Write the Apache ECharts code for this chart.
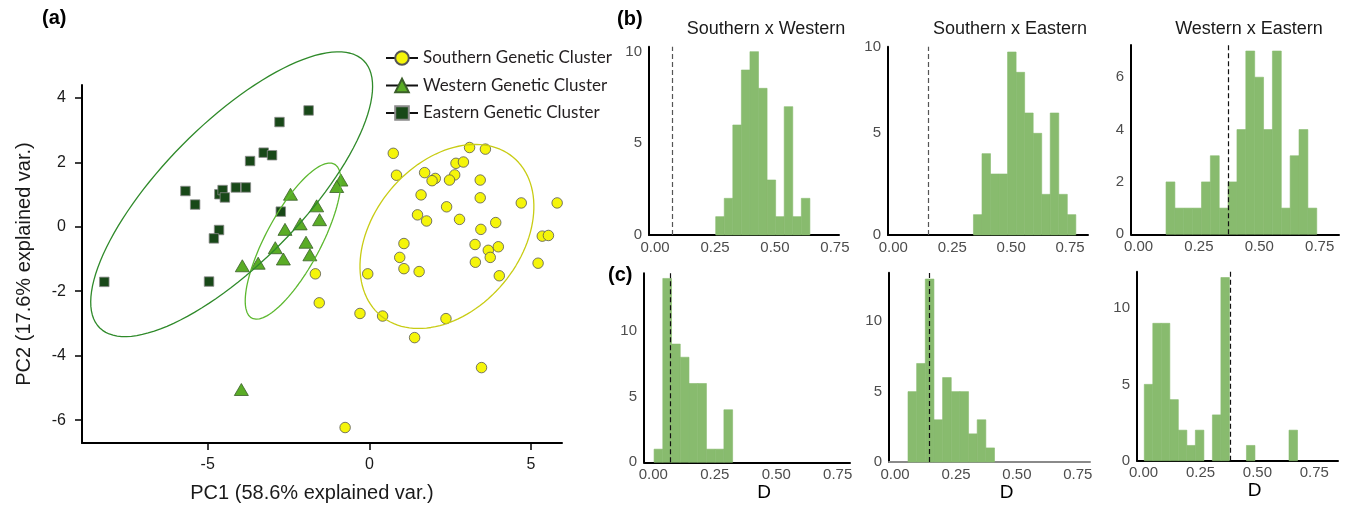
<!DOCTYPE html>
<html>
<head>
<meta charset="utf-8">
<script src="https://cdn.jsdelivr.net/npm/echarts@6/dist/echarts.min.js"></script>
<style>
html, body { margin: 0; padding: 0; background: #fff; }
#chart { width: 1346px; height: 519px; }
</style>
</head>
<body>
<div id="chart"></div>
<script>
// ---- (a) PCA scores [PC1, PC2] ----
const southernPts = [
  [0.74, 2.28], [3.10, 2.46], [3.59, 2.41], [0.84, 1.60], [1.71, 1.68], [2.04, 1.50],
  [1.94, 1.43], [2.68, 1.97], [2.91, 2.01], [2.64, 1.61], [2.48, 1.45], [3.43, 1.45],
  [1.60, 0.99], [3.43, 0.90], [4.70, 0.74], [5.81, 0.74], [2.39, 0.62], [1.49, 0.37],
  [1.77, 0.18], [2.79, 0.23], [3.91, 0.13], [3.45, -0.08], [5.35, -0.29], [5.54, -0.27],
  [1.07, -0.52], [3.27, -0.55], [3.68, -0.73], [3.99, -0.62], [3.74, -0.95], [0.94, -0.95],
  [1.07, -1.30], [1.54, -1.39], [3.28, -1.10], [5.22, -1.13], [4.02, -1.52], [-1.67, -1.46],
  [-0.05, -1.46], [-1.55, -2.36], [-0.29, -2.69], [0.41, -2.77], [2.37, -2.85], [1.40, -3.44],
  [3.47, -4.37], [-0.75, -6.23]
];
const westernPts = [
  [-0.88, 1.45], [-1.01, 1.25], [-2.44, 1.01], [-1.63, 0.65], [-1.54, 0.22], [-2.14, 0.09],
  [-2.61, -0.08], [-1.96, -0.48], [-2.91, -0.65], [-1.84, -0.87], [-2.66, -1.00], [-3.44, -1.13],
  [-3.93, -1.21], [-3.96, -5.05]
];
const easternPts = [
  [-1.88, 3.61], [-2.78, 3.25], [-3.27, 2.30], [-3.01, 2.22], [-3.69, 2.04], [-5.69, 1.11],
  [-5.39, 0.69], [-4.64, 1.01], [-4.54, 1.14], [-4.47, 0.91], [-4.13, 1.22], [-3.82, 1.22],
  [-2.74, 0.47], [-4.65, -0.10], [-4.81, -0.36], [-8.20, -1.71], [-4.96, -1.70]
];
// ellipses: [centre PC1, centre PC2, semi-major, semi-minor, angle (deg)]
const southernEllipse = [2.40, -0.30, 3.20, 2.27, 50.2];
const westernEllipse = [-2.36, -0.445, 2.71, 0.85, 61.9];
const easternEllipse = [-4.26, 1.01, 5.82, 2.16, 45.5];

const pcXTicks = [-5, 0, 5];
const pcYTicks = [-6, -4, -2, 0, 2, 4];

// ---- (b) and (c) histograms: first bin edge, bin width, counts, observed D ----
const bSWStart = 0.253, bSWWidth = 0.0357;
const bSWCounts = [1, 2, 6, 9, 10, 8, 3, 1, 7, 1, 2];
const bSWObs = 0.072;

const bSEStart = 0.340, bSEWidth = 0.0362;
const bSECounts = [1, 4, 3, 3, 9, 8, 6, 5, 2, 6, 2, 1];
const bSEObs = 0.150;

const bWEStart = 0.114, bWEWidth = 0.0367;
const bWECounts = [2, 1, 1, 1, 2, 3, 1, 2, 4, 7, 6, 4, 7, 1, 3, 4, 1];
const bWEObs = 0.372;

const cSWStart = 0.003, cSWWidth = 0.0355;
const cSWCounts = [1, 14, 9, 8, 6, 6, 1, 1, 4];
const cSWObs = 0.073;

const cSEStart = 0.053, cSEWidth = 0.0355;
const cSECounts = [5, 7, 13, 3, 6, 5, 5, 2, 3, 1];
const cSEObs = 0.141;

const cWEStart = 0.003, cWEWidth = 0.0374;
const cWECounts = [5, 9, 9, 4, 2, 1, 2, 0, 3, 12, 0, 0, 1, 0, 0, 0, 0, 2];
const cWEObs = 0.375;

const histXTicks = [0, 0.25, 0.5, 0.75];
const countTicks5 = [0, 5, 10];
const countTicks2 = [0, 2, 4, 6];

const FONT = "'Liberation Sans', Arial, sans-serif";
const LEGEND_FONT = "Lato, 'Liberation Sans', sans-serif";
const BAR_COLOR = '#88bb6e';

// panel layout (pixels) and axis ranges
const panels = [
  { start: bSWStart, width: bSWWidth, counts: bSWCounts, obs: bSWObs, obsColor: '#555',
    box: [649, 46.7, 190, 188.3], x: [-0.025, 0.767], yMax: 10.27, yTicks: countTicks5,
    title: 'Southern x Western', titleX: 766 },
  { start: bSEStart, width: bSEWidth, counts: bSECounts, obs: bSEObs, obsColor: '#555',
    box: [888, 46.7, 200, 188.3], x: [-0.0225, 0.826], yMax: 9.26, yTicks: [0, 5, 9.26],
    yFmt: v => (v > 9 ? '10' : String(v)), title: 'Southern x Eastern', titleX: 1010 },
  { start: bWEStart, width: bWEWidth, counts: bWECounts, obs: bWEObs, obsColor: '#111',
    box: [1131, 45, 208, 189.3], x: [-0.031, 0.83], yMax: 7.23, yTicks: countTicks2,
    title: 'Western x Eastern', titleX: 1249 },
  { start: cSWStart, width: cSWWidth, counts: cSWCounts, obs: cSWObs, obsColor: '#111',
    box: [644, 273.3, 206, 189], x: [-0.038, 0.80], yMax: 14.39, yTicks: countTicks5, xName: 'D' },
  { start: cSEStart, width: cSEWidth, counts: cSECounts, obs: cSEObs, obsColor: '#111',
    box: [889, 272.7, 201, 189.3], x: [-0.025, 0.80], yMax: 13.45, yTicks: countTicks5, xName: 'D',
    xLine: '#8a8a8a' },
  { start: cWEStart, width: cWEWidth, counts: cWECounts, obs: cWEObs, obsColor: '#111',
    box: [1137, 271.7, 201, 189], x: [-0.029, 0.854], yMax: 12.38, yTicks: countTicks5, xName: 'D' }
];

function ellipsePath(e) {
  const [cx, cy, a, b, deg] = e;
  const t = deg * Math.PI / 180;
  const pts = [];
  for (let i = 0; i <= 120; i++) {
    const s = i / 120 * 2 * Math.PI;
    pts.push([
      cx + a * Math.cos(s) * Math.cos(t) - b * Math.sin(s) * Math.sin(t),
      cy + a * Math.cos(s) * Math.sin(t) + b * Math.sin(s) * Math.cos(t)
    ]);
  }
  return pts;
}

const grid = [], xAxis = [], yAxis = [], series = [];
const title = [
  { text: '(a)', left: 42, top: 8, padding: 0, textStyle: { fontSize: 20, fontWeight: 'bold', fontFamily: FONT, color: '#000' } },
  { text: '(b)', left: 617, top: 9, padding: 0, textStyle: { fontSize: 20, fontWeight: 'bold', fontFamily: FONT, color: '#000' } },
  { text: '(c)', left: 608, top: 265, padding: 0, textStyle: { fontSize: 20, fontWeight: 'bold', fontFamily: FONT, color: '#000' } }
];

// ---- scatter panel ----
grid.push({ left: 82, top: 85, width: 480, height: 358 });
xAxis.push({
  type: 'value', gridIndex: 0, min: -8.89, max: 5.96,
  name: 'PC1 (58.6% explained var.)', nameLocation: 'middle', nameGap: 40,
  nameTextStyle: { fontSize: 20, color: '#1a1a1a', fontFamily: FONT, padding: [0, 20, 0, 0] },
  axisLine: { onZero: false, lineStyle: { color: '#000', width: 2 } },
  axisTick: { show: true, length: 7, customValues: pcXTicks, lineStyle: { color: '#000', width: 1.5 } },
  axisLabel: { customValues: pcXTicks, fontSize: 16, color: '#1a1a1a', fontFamily: FONT, margin: 14 },
  splitLine: { show: false }
});
yAxis.push({
  type: 'value', gridIndex: 0, min: -6.71, max: 4.40,
  name: 'PC2 (17.6% explained var.)', nameLocation: 'middle', nameGap: 48,
  nameTextStyle: { fontSize: 20, color: '#1a1a1a', fontFamily: FONT },
  axisLine: { onZero: false, lineStyle: { color: '#000', width: 2 } },
  axisTick: { show: true, length: 7, customValues: pcYTicks, lineStyle: { color: '#000', width: 1.5 } },
  axisLabel: { customValues: pcYTicks, fontSize: 16, color: '#1a1a1a', fontFamily: FONT, margin: 16 },
  splitLine: { show: false }
});

const southernStyle = { color: '#f5f50a', borderColor: '#555', borderWidth: 0.8, opacity: 1 };
const westernStyle = { color: '#5aac26', borderColor: '#3b5f2a', borderWidth: 0.8, opacity: 1 };
const easternStyle = { color: '#184818', borderColor: '#8a8a8a', borderWidth: 0.8, opacity: 1 };

series.push(
  { type: 'scatter', name: 'southern', xAxisIndex: 0, yAxisIndex: 0, data: southernPts,
    symbol: 'circle', symbolSize: 10.5, itemStyle: southernStyle },
  { type: 'scatter', name: 'western', xAxisIndex: 0, yAxisIndex: 0, data: westernPts,
    symbol: 'triangle', symbolSize: [14, 12], itemStyle: westernStyle },
  { type: 'scatter', name: 'eastern', xAxisIndex: 0, yAxisIndex: 0, data: easternPts,
    symbol: 'rect', symbolSize: 9.5, itemStyle: easternStyle }
);

[[southernEllipse, '#c8cc14'], [westernEllipse, '#5cb82f'], [easternEllipse, '#2f8a2a']].forEach(([e, c]) => {
  series.push({
    type: 'line', xAxisIndex: 0, yAxisIndex: 0, data: ellipsePath(e), showSymbol: false,
    clip: false, silent: true, lineStyle: { color: c, width: 1.3 }, z: 3
  });
});

// legend-only series (line + marker icon)
series.push(
  { type: 'line', name: 'Southern Genetic Cluster', xAxisIndex: 0, yAxisIndex: 0, data: [],
    symbol: 'circle', itemStyle: southernStyle, lineStyle: { color: '#111', width: 1.3 } },
  { type: 'line', name: 'Western Genetic Cluster', xAxisIndex: 0, yAxisIndex: 0, data: [],
    symbol: 'triangle', itemStyle: westernStyle, lineStyle: { color: '#111', width: 1.3 } },
  { type: 'line', name: 'Eastern Genetic Cluster', xAxisIndex: 0, yAxisIndex: 0, data: [],
    symbol: 'rect', itemStyle: easternStyle, lineStyle: { color: '#111', width: 1.3 } }
);

// ---- histogram panels ----
function histItem(params, api) {
  const tl = api.coord([api.value(0), api.value(2)]);
  const br = api.coord([api.value(1), 0]);
  return {
    type: 'rect',
    shape: { x: tl[0], y: tl[1], width: br[0] - tl[0], height: br[1] - tl[1] },
    style: { fill: BAR_COLOR, stroke: BAR_COLOR, lineWidth: 0.6 }
  };
}

panels.forEach((p, k) => {
  const i = k + 1;
  grid.push({ left: p.box[0], top: p.box[1], width: p.box[2], height: p.box[3] });
  xAxis.push({
    type: 'value', gridIndex: i, min: p.x[0], max: p.x[1],
    name: p.xName || '', nameLocation: 'middle', nameGap: 20,
    nameTextStyle: { fontSize: 19, color: '#000', fontFamily: FONT, padding: [0, 0, 0, 34] },
    axisLine: { onZero: false, lineStyle: { color: p.xLine || '#000', width: 2 } },
    axisTick: { show: false },
    axisLabel: { customValues: histXTicks, formatter: v => v.toFixed(2), fontSize: 15, color: '#4d4d4d', fontFamily: FONT, margin: 5 },
    splitLine: { show: false }
  });
  yAxis.push({
    type: 'value', gridIndex: i, min: 0, max: p.yMax,
    axisLine: { onZero: false, lineStyle: { color: '#000', width: 2 } },
    axisTick: { show: false },
    axisLabel: { customValues: p.yTicks, formatter: p.yFmt || (v => String(v)), fontSize: 15, color: '#4d4d4d', fontFamily: FONT, margin: 7 },
    splitLine: { show: false }
  });
  const data = [];
  p.counts.forEach((n, j) => {
    if (n > 0) data.push([p.start + j * p.width, p.start + (j + 1) * p.width, n]);
  });
  series.push({
    type: 'custom', xAxisIndex: i, yAxisIndex: i, data: data,
    encode: { x: [0, 1], y: 2 }, renderItem: histItem, silent: true,
    markLine: {
      silent: true, symbol: ['none', 'none'], label: { show: false },
      lineStyle: { color: p.obsColor, type: [5, 3], width: 1.2 },
      data: [{ xAxis: p.obs }]
    }
  });
  if (p.title) {
    title.push({ text: p.title, left: p.titleX, top: 20, padding: 0, textAlign: 'center',
      textStyle: { fontSize: 18, fontWeight: 'normal', fontFamily: FONT, color: '#1a1a1a' } });
  }
});

const chart = echarts.init(document.getElementById('chart'));
chart.setOption({
  animation: false,
  backgroundColor: '#fff',
  textStyle: { fontFamily: FONT },
  title: title,
  legend: {
    left: 380, top: 44, orient: 'vertical', selectedMode: false,
    itemWidth: 32, itemHeight: 17, itemGap: 9.5,
    data: ['Southern Genetic Cluster', 'Western Genetic Cluster', 'Eastern Genetic Cluster'],
    textStyle: { fontSize: 17, lineHeight: 18, color: '#231f20', fontFamily: LEGEND_FONT }
  },
  grid: grid,
  xAxis: xAxis,
  yAxis: yAxis,
  series: series
});
</script>
</body>
</html>
